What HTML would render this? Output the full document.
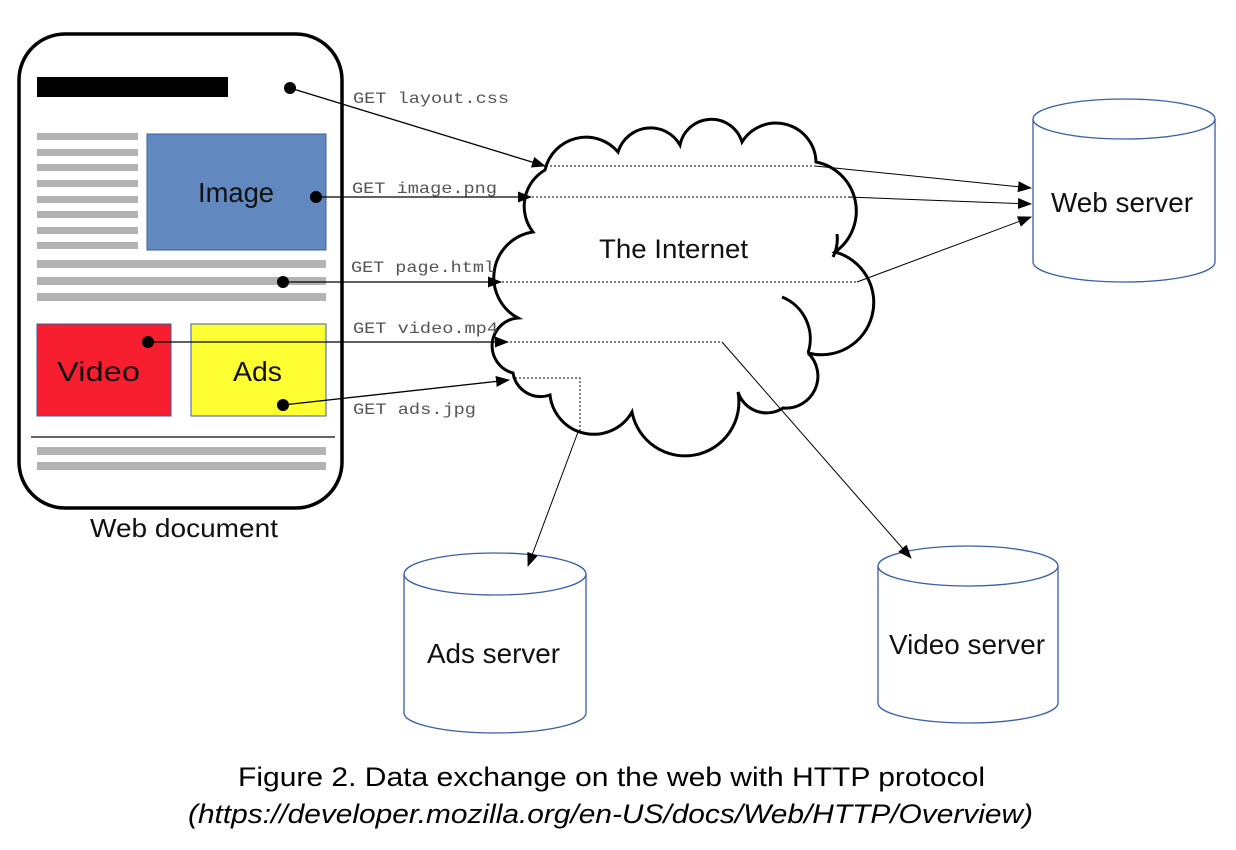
<!DOCTYPE html>
<html><head><meta charset="utf-8"><style>
html,body{margin:0;padding:0;background:#fff;width:1236px;height:850px;overflow:hidden}
svg{display:block}
text{font-family:"Liberation Sans",sans-serif}
.mono{font-family:"Liberation Mono",monospace;font-size:16px;fill:#555}
</style></head><body>
<svg width="1236" height="850" viewBox="0 0 1236 850" xmlns="http://www.w3.org/2000/svg">
<defs>
<marker id="ah" markerWidth="14" markerHeight="11" refX="13" refY="5.5" orient="auto" markerUnits="userSpaceOnUse">
<path d="M0,0 L14,5.5 L0,11 z" fill="#000"/></marker>
</defs>
<!-- web document -->
<rect x="19" y="34" width="323" height="474" rx="46" ry="46" fill="#fff" stroke="#000" stroke-width="3.5"/>
<rect x="37" y="77" width="191" height="20" fill="#000"/>
<g fill="#b3b3b3">
<rect x="37" y="133" width="101" height="7"/><rect x="37" y="149" width="101" height="7"/>
<rect x="37" y="164" width="101" height="7"/><rect x="37" y="180" width="101" height="7"/>
<rect x="37" y="196" width="101" height="7"/><rect x="37" y="211" width="101" height="7"/>
<rect x="37" y="227" width="101" height="7"/><rect x="37" y="242" width="101" height="7"/>
<rect x="37" y="260" width="289" height="8"/><rect x="37" y="277" width="289" height="8"/>
<rect x="37" y="293" width="289" height="8"/>
<rect x="37" y="447" width="289" height="8"/><rect x="37" y="462" width="289" height="8"/>
</g>
<rect x="147" y="134" width="179" height="116" fill="#6189c0" stroke="#3c5da0" stroke-width="1"/>
<text x="198" y="202" font-size="28" fill="#111" textLength="76" lengthAdjust="spacingAndGlyphs">Image</text>
<rect x="37" y="324" width="134" height="92" fill="#f71e30" stroke="#3c5da0" stroke-width="1"/>
<text x="57" y="381" font-size="28" fill="#111" textLength="83" lengthAdjust="spacingAndGlyphs">Video</text>
<rect x="191" y="324" width="135" height="92" fill="#ffff33" stroke="#3c5da0" stroke-width="1"/>
<text x="233" y="381" font-size="28" fill="#111" textLength="49" lengthAdjust="spacingAndGlyphs">Ads</text>
<line x1="31" y1="437" x2="335" y2="437" stroke="#333" stroke-width="1.5"/>
<text x="90" y="537" font-size="26" fill="#111" textLength="188" lengthAdjust="spacingAndGlyphs">Web document</text>

<!-- cloud -->
<path d="M545,170 A42,42 0 0 1 618,152 A34,34 0 0 1 680,145 A32,32 0 0 1 742,142 A40,40 0 0 1 816,162 A50,50 0 0 1 835,252 A52,52 0 0 1 808,353 A32,32 0 0 1 783,408 A30,30 0 0 1 738,392 A52,52 0 0 1 632,412 A44,44 0 0 1 550,395 A28,28 0 0 1 513,373 A28,28 0 0 1 518,318 A46,46 0 0 1 533,232 A42,42 0 0 1 545,170 Z" fill="#fff" stroke="#000" stroke-width="3"/>
<path d="M782,297 A45,45 0 0 1 808,353" fill="none" stroke="#000" stroke-width="3"/>
<path d="M833,257 A40,40 0 0 0 837,234" fill="none" stroke="#000" stroke-width="3"/>
<text x="599" y="258" font-size="27" fill="#111" textLength="149" lengthAdjust="spacingAndGlyphs">The Internet</text>

<!-- cylinders -->
<g fill="#fff" stroke="#3a5fa8" stroke-width="1.3">
<path d="M1033,119 L1033,262 A91,20 0 0 0 1215,262 L1215,119"/>
<ellipse cx="1124" cy="119" rx="91" ry="20"/>
<path d="M404,574 L404,713 A91,20 0 0 0 586,713 L586,574"/>
<ellipse cx="495" cy="574" rx="91" ry="21"/>
<path d="M878,566 L878,703 A90,20 0 0 0 1058,703 L1058,566"/>
<ellipse cx="968" cy="566" rx="90" ry="20"/>
</g>
<text x="1051" y="212" font-size="28" fill="#111" textLength="142" lengthAdjust="spacingAndGlyphs">Web server</text>
<text x="427" y="663" font-size="28" fill="#111" textLength="133" lengthAdjust="spacingAndGlyphs">Ads server</text>
<text x="889" y="654" font-size="28" fill="#111" textLength="156" lengthAdjust="spacingAndGlyphs">Video server</text>

<!-- dotted inner paths -->
<g stroke="#000" stroke-width="1" stroke-dasharray="2,2" fill="none">
<line x1="546" y1="166" x2="815" y2="166"/>
<line x1="532" y1="197" x2="848" y2="197"/>
<line x1="502" y1="282" x2="857" y2="282"/>
<polyline points="510,342 722,342"/>
<polyline points="515,378 580,378 580,432"/>
</g>

<!-- arrows from doc -->
<g stroke="#000" stroke-width="1.3" fill="none">
<line x1="290" y1="88" x2="545" y2="166" marker-end="url(#ah)"/>
<line x1="316" y1="197" x2="531" y2="197" marker-end="url(#ah)"/>
<line x1="283" y1="282" x2="501" y2="282" marker-end="url(#ah)"/>
<line x1="148" y1="342" x2="508" y2="342" marker-end="url(#ah)"/>
<line x1="283" y1="405" x2="509" y2="380" marker-end="url(#ah)"/>
</g>
<g fill="#000">
<circle cx="290" cy="88" r="6"/><circle cx="316" cy="197" r="6"/>
<circle cx="283" cy="282" r="6"/><circle cx="148" cy="342" r="6"/>
<circle cx="283" cy="405" r="6"/>
</g>
<!-- outgoing -->
<g stroke="#000" stroke-width="1" fill="none">
<line x1="815" y1="166" x2="1031" y2="188" marker-end="url(#ah)"/>
<line x1="848" y1="197" x2="1031" y2="204" marker-end="url(#ah)"/>
<line x1="857" y1="282" x2="1031" y2="217" marker-end="url(#ah)"/>
<line x1="722" y1="342" x2="911" y2="558" marker-end="url(#ah)"/>
<line x1="578" y1="432" x2="528" y2="566" marker-end="url(#ah)"/>
</g>
<text class="mono" x="353" y="103" textLength="156" lengthAdjust="spacingAndGlyphs">GET layout.css</text>
<text class="mono" x="352" y="193" textLength="145" lengthAdjust="spacingAndGlyphs">GET image.png</text>
<text class="mono" x="351" y="272" textLength="144" lengthAdjust="spacingAndGlyphs">GET page.html</text>
<text class="mono" x="353" y="333" textLength="145" lengthAdjust="spacingAndGlyphs">GET video.mp4</text>
<text class="mono" x="353" y="414" textLength="123" lengthAdjust="spacingAndGlyphs">GET ads.jpg</text>

<!-- caption -->
<text x="238" y="786" font-size="27" fill="#000" textLength="747" lengthAdjust="spacingAndGlyphs">Figure 2. Data exchange on the web with HTTP protocol</text>
<text x="188" y="823" font-size="27" font-style="italic" fill="#000" textLength="845" lengthAdjust="spacingAndGlyphs">(https://developer.mozilla.org/en-US/docs/Web/HTTP/Overview)</text>
</svg>
</body></html>
